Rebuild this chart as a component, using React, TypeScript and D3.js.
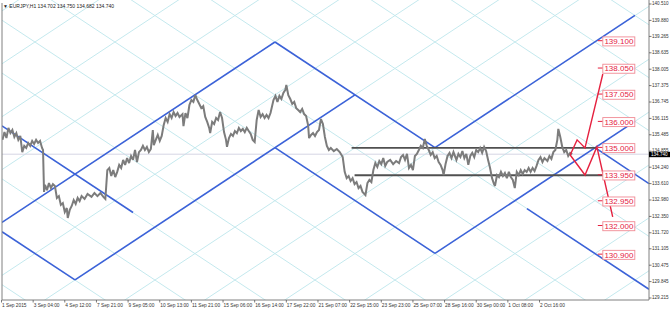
import React from "react";
import * as d3 from "d3";

const W = 670;
const H = 309;

// ---- data ----
const symbolHeader = "EURJPY,H1";
const ohlcHeader = ["134.702", "134.750", "134.682", "134.740"];
const lastPrice = 134.74;

const priceTicks = [
  "140.510", "139.880", "139.265", "138.635", "138.005", "137.375", "136.745",
  "136.115", "135.485", "134.855", "134.240", "133.610", "132.980", "132.350",
  "131.720", "131.105", "130.475", "129.845", "129.215",
];

const timeLabels = [
  "1 Sep 2015", "3 Sep 04:00", "4 Sep 12:00", "7 Sep 21:00", "9 Sep 05:00",
  "10 Sep 13:00", "11 Sep 21:00", "15 Sep 06:00", "16 Sep 14:00", "17 Sep 22:00",
  "21 Sep 07:00", "22 Sep 15:00", "23 Sep 23:00", "25 Sep 07:00", "28 Sep 16:00",
  "30 Sep 00:00", "1 Oct 08:00", "2 Oct 16:00",
];
const barsPerLabel = 32;
const barDomain = [0, 654.7];
const priceDomain = [129.215, 140.51];

// [bar, price]
const priceTrace: [number, number][] = [
  [1,135.29],[3,135.59],[5,135.36],[7,135.75],[9,135.55],[11,135.67],[13,135.40],[15,135.55],[17,135.29],[19,135.44],[21,134.82],[23,135.06],[25,134.98],[27,135.17],[29,135.06],[31,135.25],[33,135.13],[35,135.29],[37,135.17],[39,135.25],[41,134.98],[42,134.90],
  [43,133.29],[44,133.56],[46,133.36],[48,133.63],[50,133.44],[52,133.59],[54,133.52],[56,133.06],[58,133.13],[60,132.79],[62,132.86],[64,132.52],[66,132.67],[67,132.29],[69,132.60],[71,132.75],[73,132.98],[75,132.83],[77,133.06],[79,132.94],[81,133.13],[84,133.02],[87,133.21],[91,133.10],[94,133.25],[97,133.13],[100,133.25],[103,133.10],[105,133.02],
  [107,134.13],[109,134.21],[111,133.90],[113,134.13],[115,133.86],[117,134.06],[119,134.33],[121,134.21],[123,134.52],[125,134.33],[127,134.59],[129,134.40],[131,134.67],[133,134.52],[135,134.90],[137,134.44],[139,134.82],[141,134.90],[143,135.06],[145,134.90],[147,135.02],[149,134.82],[151,134.94],[153,135.67],[154,135.09],[156,135.29],[158,135.48],[160,135.25],[162,135.44],
  [164,135.86],[166,136.13],[168,135.98],[170,136.28],[172,136.13],[174,136.36],[176,136.21],[178,136.32],[180,136.17],[183,136.28],[184,135.82],[186,136.32],[188,136.13],[190,136.63],[192,136.82],[194,136.75],[196,137.01],[198,136.82],[200,136.67],[202,136.51],[204,136.59],[206,136.17],[208,135.98],[210,135.75],[211,135.55],[213,135.98],[215,135.90],[217,136.13],[219,136.05],[221,136.36],[223,136.13],[225,135.59],[227,135.29],[228,135.02],
  [230,135.36],[232,135.52],[234,135.44],[236,135.63],[238,135.55],[240,135.75],[242,135.63],[244,135.71],[246,135.59],[248,135.75],[250,135.63],[252,135.52],[254,135.29],[256,135.21],[258,136.05],[260,136.44],[262,136.17],[264,136.28],[266,136.13],[268,136.25],[270,136.13],[272,136.32],[275,136.82],[277,136.98],[279,136.75],[281,136.98],[283,136.86],[285,137.09],[287,137.21],[288,137.40],[290,137.01],[292,136.86],[294,136.67],[296,136.75],[298,136.51],[300,136.44],[302,136.36],[304,136.48],[306,136.28],[308,136.21],[310,135.86],[311,135.36],[313,135.48],[315,135.55],[317,135.44],[319,135.59],[321,135.67],[323,136.09],[325,135.90],[327,135.40],[329,135.06],[331,134.90],[333,134.98],[336,134.86],[339,134.94],[342,134.82],[345,134.63],
  [347,134.06],[349,133.82],[351,133.90],[353,133.71],[355,133.82],[357,133.59],[359,133.67],[361,133.44],[363,133.52],[365,133.29],[368,133.17],[370,133.63],[372,133.75],[374,133.67],[376,134.13],[378,134.40],[380,134.25],[382,134.48],[384,134.36],[386,134.59],[388,134.29],[390,134.44],[393,134.52],[396,134.36],[399,134.48],[402,134.40],[404,134.63],[406,134.71],[408,134.52],[410,134.75],[412,134.21],[414,134.33],[416,134.13],[418,134.67],[420,134.75],[422,134.90],[424,135.06],[426,134.98],[428,135.32],[430,135.06],[432,134.90],[434,134.71],[436,134.82],[438,134.59],[440,134.67],[442,134.44],[444,134.33],[446,134.13],[447,133.94],[449,134.36],[451,134.67],[453,134.79],[455,134.59],[457,134.82],[460,134.52],[462,134.75],[464,134.63],[466,134.86],[468,134.59],[470,134.75],[472,134.33],[474,134.67],[476,134.79],[478,134.63],[480,134.90],[482,134.82],[484,134.98],[486,134.79],[488,135.02],[490,134.86],
  [492,134.52],[494,134.21],[496,133.82],[498,133.59],[499,133.52],[501,133.94],[503,133.86],[505,134.06],[507,133.90],[509,134.02],[511,133.82],[513,134.06],[515,133.86],[517,133.75],[519,133.44],[521,134.06],[523,133.94],[525,134.13],[527,133.98],[529,134.13],[531,134.06],[533,134.21],[535,134.06],[537,134.21],[539,134.09],[541,134.29],[543,134.52],[545,134.63],[547,134.44],[549,134.59],[552,134.48],[554,134.67],[556,134.56],[558,134.82],[560,134.90],[562,135.29],[563,135.71],[565,135.40],[567,135.02],[569,134.82],[571,134.90],[573,134.67],[575,134.79],[577,134.74],
];

// Gann grid (anchor, slope in price per bar, spacing in bars)
const gannAnchorBar = 276.5;
const gannAnchorPrice = 139.05;
const gannSlope = 0.02512;
const gannSpacing = 80.9;

// blue channel lines: [bar0, price0, bar1, price1]
const blueLines: [number, number, number, number][] = [
  [0.5, 135.83, 133.0, 132.5],
  [0.5, 131.76, 74.3, 129.91],
  [74.3, 129.91, 357.4, 137.02],
  [0.5, 132.12, 276.5, 139.05],
  [276.5, 139.05, 438.3, 134.99],
  [438.3, 134.99, 640.5, 140.07],
  [276.5, 134.99, 438.3, 130.93],
  [438.3, 130.93, 640.5, 136.0],
  [600.1, 134.99, 654.7, 133.61],
  [531.3, 132.65, 654.7, 129.55],
];

// horizontal support / resistance: [price, barFrom, barTo]
const levels: [number, number, number][] = [
  [134.98, 354, 602],
  [133.93, 357, 608],
];

// red scenario paths
const bullPath: [number, number][] = [[575, 134.71], [582, 135.29], [590, 134.98], [608, 137.82]];
const bearPath: [number, number][] = [[575, 134.71], [590, 133.94], [602, 135.02], [618, 132.33]];

// red target labels
const targetLevels = ["139.100", "138.050", "137.050", "136.000", "135.000", "133.950", "132.950", "132.000", "130.900"];
const targetBar = 608;

// ---- layout ----
const plotLeft = 2;
const plotRight = 649;
const plotTop = 0;
const plotBottom = 300;

export default function App() {
  const x = d3.scaleLinear().domain(barDomain).range([1.5, plotRight]);
  const y = d3.scaleLinear().domain(priceDomain).range([298, 4]);

  const line = d3
    .line<[number, number]>()
    .x((d) => x(d[0]))
    .y((d) => y(d[1]));

  // Gann lattice lines
  const gannLines: [number, number][][] = [];
  const b0 = -450;
  const b1 = 1100;
  for (let m = -12; m <= 14; m++) {
    const c = gannAnchorBar + m * gannSpacing;
    gannLines.push([
      [b0, gannAnchorPrice - gannSlope * (b0 - c)],
      [b1, gannAnchorPrice - gannSlope * (b1 - c)],
    ]);
    gannLines.push([
      [b0, gannAnchorPrice + gannSlope * (b0 - c)],
      [b1, gannAnchorPrice + gannSlope * (b1 - c)],
    ]);
  }

  const font = "'Liberation Sans', Arial, sans-serif";
  const red = "#e5213f";

  return (
    <svg
      width={W}
      height={H}
      viewBox={`0 0 ${W} ${H}`}
      style={{ position: "absolute", left: 0, top: 0, background: "#fff" }}
    >
      <defs>
        <clipPath id="plotClip">
          <rect x={plotLeft} y={plotTop} width={plotRight - plotLeft} height={plotBottom - plotTop} />
        </clipPath>
      </defs>
      <rect x={0} y={0} width={W} height={H} fill="#fff" />

      <g clipPath="url(#plotClip)">
        {gannLines.map((l, i) => (
          <path key={"g" + i} d={line(l) || ""} stroke="#c4e9ee" strokeWidth={1} fill="none" />
        ))}
        {/* bid line */}
        <line x1={plotLeft} x2={plotRight} y1={y(lastPrice)} y2={y(lastPrice)} stroke="#d6d6e4" strokeWidth={1} />

        {blueLines.map((l, i) => (
          <line
            key={"b" + i}
            x1={x(l[0])}
            y1={y(l[1])}
            x2={x(l[2])}
            y2={y(l[3])}
            stroke="#3c62d8"
            strokeWidth={1.6}
          />
        ))}

        {levels.map((l, i) => (
          <line
            key={"l" + i}
            x1={x(l[1])}
            x2={x(l[2])}
            y1={y(l[0])}
            y2={y(l[0])}
            stroke="#505050"
            strokeWidth={1.8}
          />
        ))}

        <path d={line(priceTrace) || ""} fill="none" stroke="#7c7c7c" strokeWidth={2} strokeLinejoin="miter" strokeMiterlimit={3} />

        <path d={line(bullPath) || ""} fill="none" stroke={red} strokeWidth={1.4} />
        <path d={line(bearPath) || ""} fill="none" stroke={red} strokeWidth={1.4} />

        {targetLevels.map((t, i) => {
          const py = y(+t);
          const px = x(targetBar);
          return (
            <g key={"t" + i}>
              <line x1={px - 5} x2={px} y1={py} y2={py} stroke={red} strokeWidth={1} />
              <rect x={px} y={py - 3.8} width={32} height={9} fill="#fff" stroke="#f08a94" strokeWidth={0.9} />
              <text x={px + 1.6} y={py + 3.4} fontFamily={font} fontSize={8} fill={red}>
                {t}
              </text>
            </g>
          );
        })}
      </g>

      {/* frame */}
      <line x1={plotLeft} x2={plotLeft} y1={3} y2={plotBottom} stroke="#808080" strokeWidth={1} />
      <line x1={plotLeft} x2={plotRight} y1={plotBottom} y2={plotBottom} stroke="#808080" strokeWidth={1} />
      <line x1={plotRight} x2={plotRight} y1={0} y2={plotBottom} stroke="#808080" strokeWidth={1} />

      {/* header */}
      <text x={3} y={7.5} fontFamily={font} fontSize={5} fill="#222">
        {"\u25BC " + symbolHeader + "  " + ohlcHeader.join(" ")}
      </text>

      {/* price axis */}
      {priceTicks.map((t, i) => {
        const py = y(+t);
        return (
          <g key={"p" + i}>
            <line x1={plotRight} x2={plotRight + 2.5} y1={py} y2={py} stroke="#555" strokeWidth={0.8} />
            <text x={plotRight + 3} y={py + 1.3} fontFamily={font} fontSize={4.6} fill="#333">
              {t}
            </text>
          </g>
        );
      })}
      <rect x={plotRight} y={y(lastPrice) - 2.4} width={W - plotRight} height={5.4} fill="#000" />
      <text x={plotRight + 2} y={y(lastPrice) + 2.2} fontFamily={font} fontSize={4.6} fill="#fff">
        {lastPrice.toFixed(3)}
      </text>

      {/* time axis */}
      {timeLabels.map((t, i) => {
        const px = x(i * barsPerLabel);
        return (
          <g key={"x" + i}>
            <line x1={px} x2={px} y1={plotBottom} y2={plotBottom + 2.5} stroke="#555" strokeWidth={0.8} />
            <text x={px + 0.5} y={306.5} fontFamily={font} fontSize={4.8} fill="#333">
              {t}
            </text>
          </g>
        );
      })}
    </svg>
  );
}
